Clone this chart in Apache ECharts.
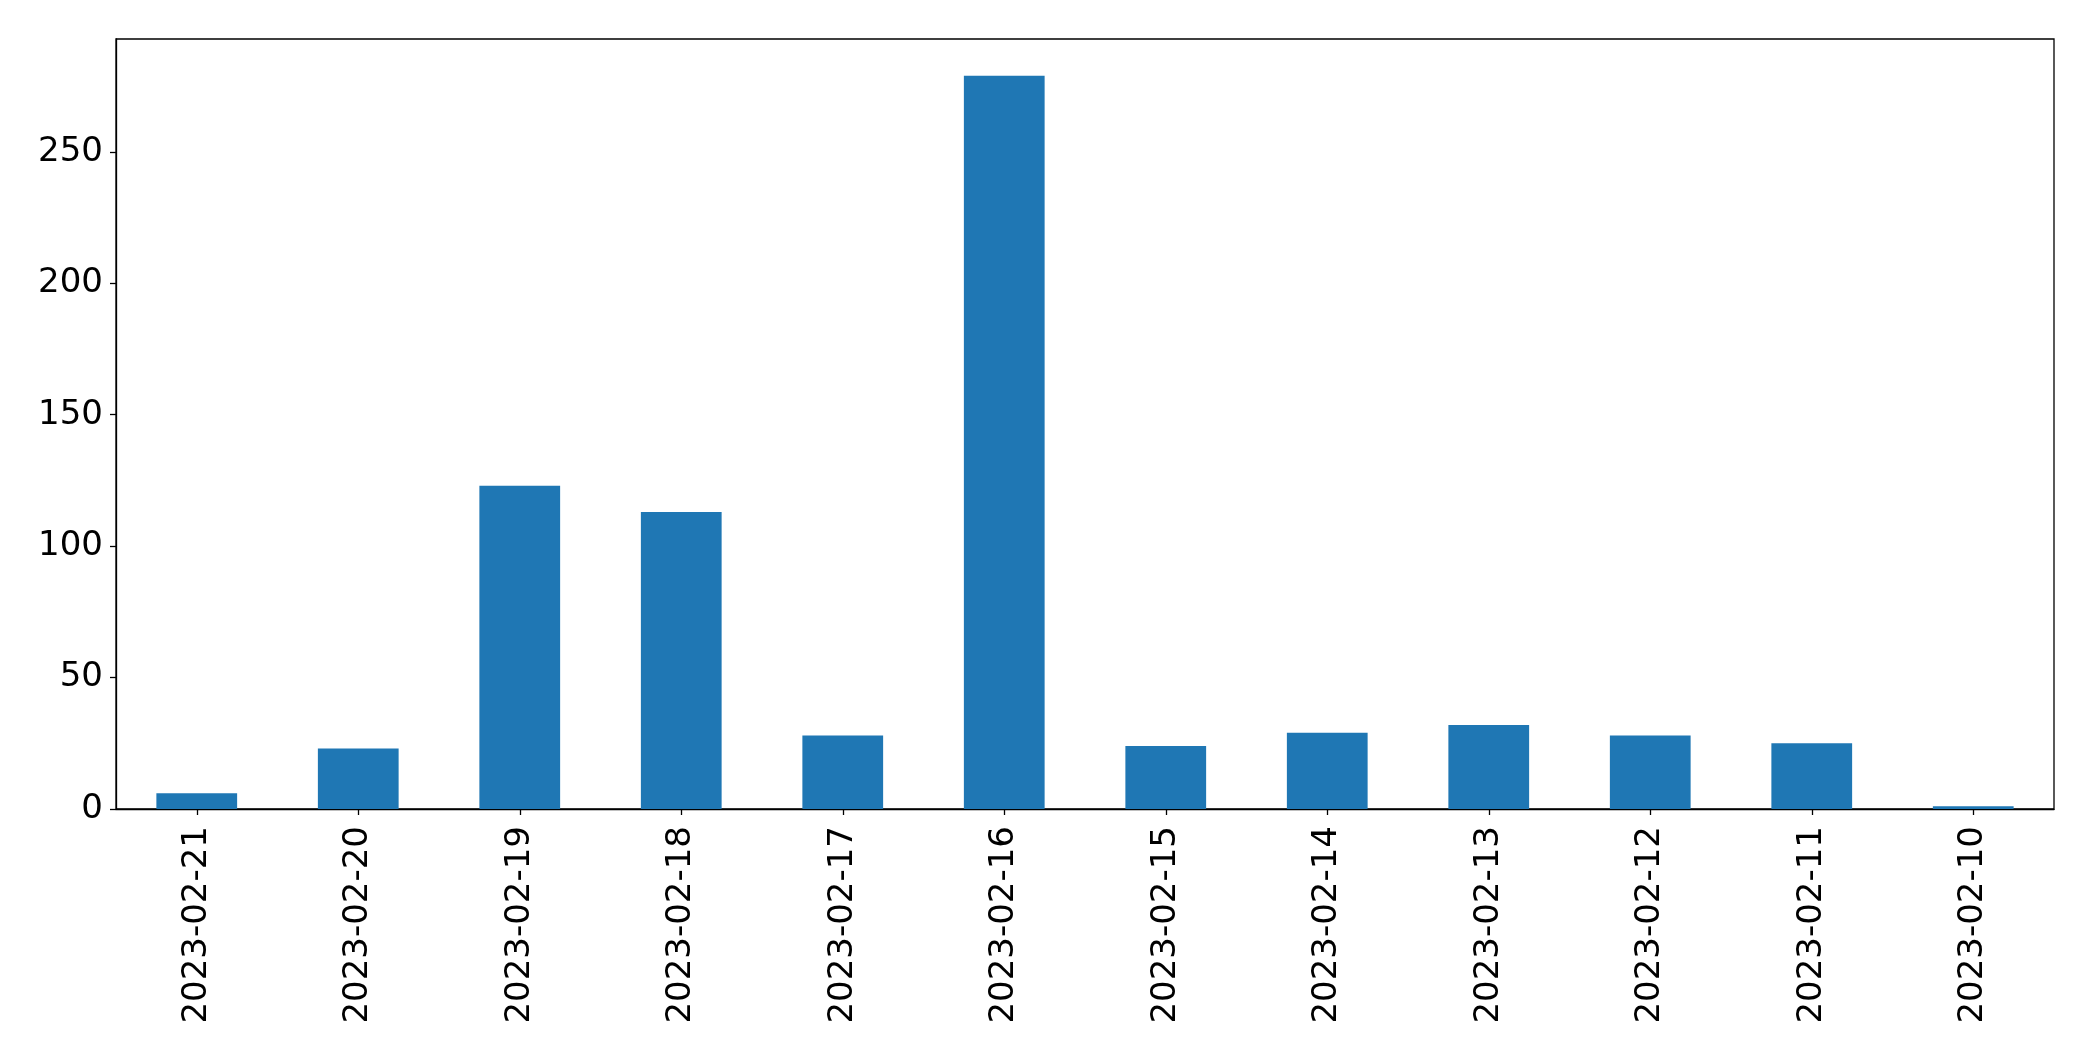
<!DOCTYPE html>
<html>
<head>
<meta charset="utf-8">
<script src="https://cdn.jsdelivr.net/npm/echarts@6/dist/echarts.min.js"></script>
<style>
html,body{margin:0;padding:0;background:#fff;}
#c{width:2093px;height:1061px;}
</style>
</head>
<body>
<div id="c"></div>
<script>
const categories = ["2023-02-21","2023-02-20","2023-02-19","2023-02-18","2023-02-17","2023-02-16","2023-02-15","2023-02-14","2023-02-13","2023-02-12","2023-02-11","2023-02-10"];
const values = [6, 23, 123, 113, 28, 279, 24, 29, 32, 28, 25, 1];
const yTicks = [0, 50, 100, 150, 200, 250];

const yMax = Math.max(...values) * 1.05;
const chart = echarts.init(document.getElementById('c'), null, {renderer: 'canvas'});
const font = {fontFamily: 'DejaVu Sans', fontSize: 34, color: '#000'};
chart.setOption({
  animation: false,
  backgroundColor: '#fff',
  grid: {left: 116, top: 39, width: 1938, height: 770, containLabel: false,
         show: true, borderColor: '#000', borderWidth: 1.3, backgroundColor: 'transparent'},
  xAxis: {
    type: 'category', data: categories, boundaryGap: true,
    axisLine: {show: true, lineStyle: {color: '#000', width: 1.3}},
    axisTick: {show: true, alignWithLabel: true, length: 6, lineStyle: {color: '#000', width: 1.3}},
    axisLabel: Object.assign({rotate: 90, margin: 17, interval: 0}, font),
    splitLine: {show: false}
  },
  yAxis: {
    type: 'value', min: 0, max: yMax,
    axisLine: {show: true, lineStyle: {color: '#000', width: 1.3}},
    axisTick: {show: true, length: 6, customValues: yTicks, lineStyle: {color: '#000', width: 1.3}},
    axisLabel: Object.assign({margin: 13, customValues: yTicks}, font),
    splitLine: {show: false}
  },
  series: [{
    type: 'bar', data: values, barWidth: '50%',
    itemStyle: {color: '#1f77b4'}
  }]
});
</script>
</body>
</html>
